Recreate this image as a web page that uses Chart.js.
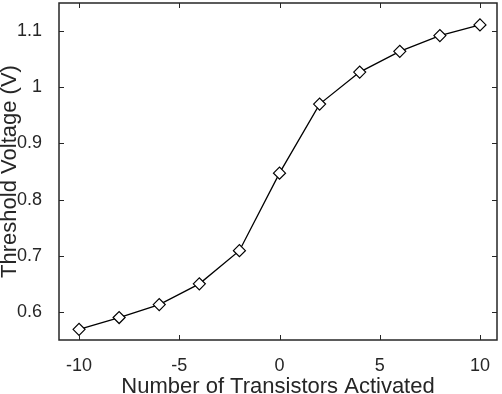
<!DOCTYPE html>
<html>
<head>
<meta charset="utf-8">
<script src="https://cdn.jsdelivr.net/npm/chart.js@4.4.0/dist/chart.umd.min.js"></script>
<style>
  html, body { margin: 0; padding: 0; background: #fff; }
  #wrap { width: 502px; height: 394px; }
</style>
</head>
<body>
<div id="wrap"><canvas id="vtChart"></canvas></div>
<script>
const transistors = [-10, -8, -6, -4, -2, 0, 2, 4, 6, 8, 10];
const thresholdV = [0.569, 0.590, 0.613, 0.650, 0.709, 0.847, 0.970, 1.027, 1.064, 1.092, 1.111];
const xTicks = [-10, -5, 0, 5, 10];
const yTicks = [0.6, 0.7, 0.8, 0.9, 1.0, 1.1];

const axisColor = '#262626';
const font = 'Liberation Sans, Arial, Helvetica, sans-serif';

// MATLAB-like box with inward ticks on all four sides
const boxPlugin = {
    id: 'box',
    afterDraw(chart) {
        const { ctx, chartArea: a, scales } = chart;
        const len = 5;
        ctx.save();
        ctx.strokeStyle = axisColor;
        ctx.lineWidth = 1;
        ctx.beginPath();
        scales.x.ticks.forEach(t => {
            const px = Math.round(scales.x.getPixelForValue(t.value)) + 0.5;
            ctx.moveTo(px, a.bottom); ctx.lineTo(px, a.bottom - len);
            ctx.moveTo(px, a.top); ctx.lineTo(px, a.top + len);
        });
        scales.y.ticks.forEach(t => {
            const py = Math.round(scales.y.getPixelForValue(t.value)) + 0.5;
            ctx.moveTo(a.left, py); ctx.lineTo(a.left + len, py);
            ctx.moveTo(a.right, py); ctx.lineTo(a.right - len, py);
        });
        ctx.stroke();
        ctx.lineWidth = 1.5;
        ctx.strokeRect(a.left, a.top, a.right - a.left, a.bottom - a.top);
        ctx.restore();
    }
};

const vtChart = new Chart(document.getElementById('vtChart').getContext('2d'), {
    type: 'line',
    data: {
        datasets: [{
            data: transistors.map((x, i) => ({ x: x, y: thresholdV[i] })),
            borderColor: '#000',
            borderWidth: 1.3,
            pointStyle: 'rectRot',
            pointRadius: 6,
            pointBorderWidth: 1.2,
            pointBackgroundColor: '#fff',
            pointBorderColor: '#000',
            tension: 0
        }]
    },
    options: {
        responsive: true,
        maintainAspectRatio: false,
        animation: false,
        layout: { autoPadding: false, padding: { top: 3, right: 5, left: 0, bottom: 0 } },
        plugins: { legend: { display: false }, tooltip: { enabled: false } },
        scales: {
            x: {
                type: 'linear',
                min: -11,
                max: 10.85,
                afterBuildTicks: s => { s.ticks = xTicks.map(v => ({ value: v })); },
                afterFit: s => { s.height = 54; s.paddingLeft = 0; s.paddingRight = 0; },
                grid: { display: false },
                border: { display: false },
                ticks: { color: axisColor, font: { family: font, size: 18 }, padding: 7 },
                title: { display: true, text: 'Number of Transistors Activated', color: axisColor,
                         font: { family: font, size: 22 }, padding: { top: 0, bottom: -6 } }
            },
            y: {
                min: 0.55,
                max: 1.15,
                afterBuildTicks: s => { s.ticks = yTicks.map(v => ({ value: v })); },
                afterFit: s => { s.width = 59; s.paddingTop = 0; s.paddingBottom = 0; },
                grid: { display: false },
                border: { display: false },
                ticks: { color: axisColor, font: { family: font, size: 18 }, padding: 9,
                         callback: v => String(Math.round(v * 10) / 10) },
                title: { display: true, text: 'Threshold Voltage (V)', color: axisColor,
                         font: { family: font, size: 22 }, padding: { top: -3, bottom: 0 } }
            }
        }
    },
    plugins: [boxPlugin]
});
</script>
</body>
</html>
